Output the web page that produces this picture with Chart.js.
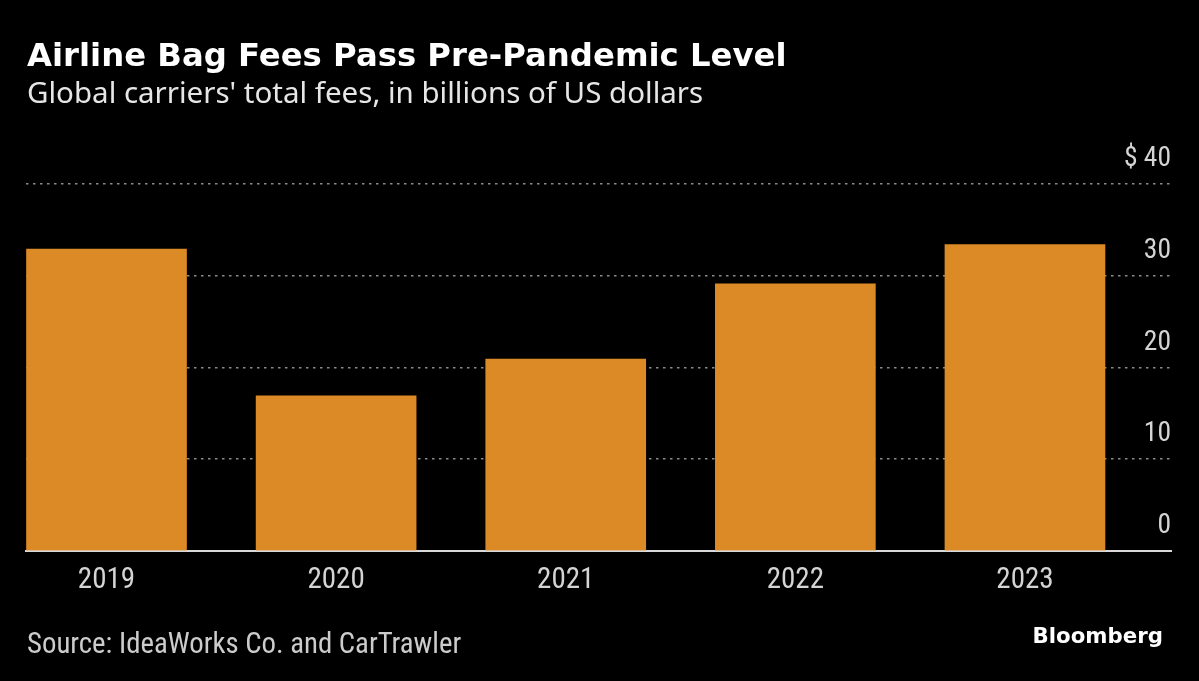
<!DOCTYPE html>
<html><head><meta charset="utf-8">
<script src="https://cdn.jsdelivr.net/npm/chart.js@4"></script>
<style>
html,body{margin:0;padding:0;background:#000;width:1199px;height:681px;overflow:hidden}
#wrap{position:relative;width:1199px;height:681px;background:#000}
canvas{position:absolute;left:0;top:0}
.t{position:absolute;white-space:nowrap;margin:0;padding:0}
</style></head><body>
<div id="wrap">
<canvas id="c" width="1199" height="681"></canvas>
<div class="t" data-font="bold 32.3px 'DejaVu Sans'" data-base="66" style="left:27px;color:#ffffff">Airline Bag Fees Pass Pre-Pandemic Level</div>
<div class="t" data-font="29.5px 'Noto Sans'" data-base="103" style="left:27px;color:#e6e6e6">Global carriers' total fees, in billions of US dollars</div>
<div class="t" data-font="28.8px 'Roboto Condensed'" data-base="652.7" style="left:27px;color:#cccccc">Source: IdeaWorks Co. and CarTrawler</div>
<div class="t" data-font="bold 21.3px 'DejaVu Sans'" data-base="643.3" style="right:36px;color:#ffffff">Bloomberg</div>
</div>
<script>
// ---- data ----
const categories = ['2019', '2020', '2021', '2022', '2023'];
const fees = [32.9, 16.9, 20.9, 29.1, 33.4];
const yTicks = [0, 10, 20, 30, 40];
const yTickLabels = ['0', '10', '20', '30', '$ 40'];

// ---- text placement ----
const mctx = document.createElement('canvas').getContext('2d');
document.querySelectorAll('.t').forEach(el => {
  const font = el.dataset.font;
  el.style.font = font;
  mctx.font = font;
  const m = mctx.measureText(el.textContent);
  const asc = m.fontBoundingBoxAscent, desc = m.fontBoundingBoxDescent;
  el.style.lineHeight = (asc + desc) + 'px';
  el.style.top = (parseFloat(el.dataset.base) - asc) + 'px';
});

// ---- chart ----
const points = categories.map((c, i) => ({ x: i, y: fees[i] }));
new Chart(document.getElementById('c'), {
  type: 'bar',
  data: { datasets: [{ data: points, backgroundColor: '#dc8a25', borderWidth: 0, barThickness: 160 }] },
  options: {
    responsive: false,
    animation: false,
    devicePixelRatio: 1,
    layout: { padding: { left: 26, right: 28, top: 184, bottom: 69.4 } },
    plugins: { legend: { display: false }, tooltip: { enabled: false }, title: { display: false } },
    scales: {
      x: {
        type: 'linear', offset: false, min: -0.3506, max: 4.636,
        grid: { display: false, drawTicks: false },
        border: { display: true, color: '#d9d9d9', width: 2 },
        afterBuildTicks: s => { s.ticks = categories.map((c, i) => ({ value: i })); },
        ticks: {
          autoSkip: false, maxRotation: 0, padding: 13,
          color: '#d4d4d4', font: { family: 'Roboto Condensed', size: 29 },
          callback: v => categories[v]
        }
      },
      y: {
        position: 'right', min: 0, max: 40,
        afterBuildTicks: s => { s.ticks = yTicks.map(v => ({ value: v })); },
        grid: {
          drawTicks: false, lineWidth: 1.5,
          color: c => (c.tick && c.tick.value === 0) ? 'rgba(0,0,0,0)' : '#8a8a8a'
        },
        border: { display: false, dash: [2.5, 4.5] },
        ticks: {
          mirror: true, padding: 0, labelOffset: -24.5,
          color: '#d4d4d4', font: { family: 'Roboto Condensed', size: 27.5 },
          callback: v => yTickLabels[yTicks.indexOf(v)]
        }
      }
    }
  }
});
</script>
</body></html>
